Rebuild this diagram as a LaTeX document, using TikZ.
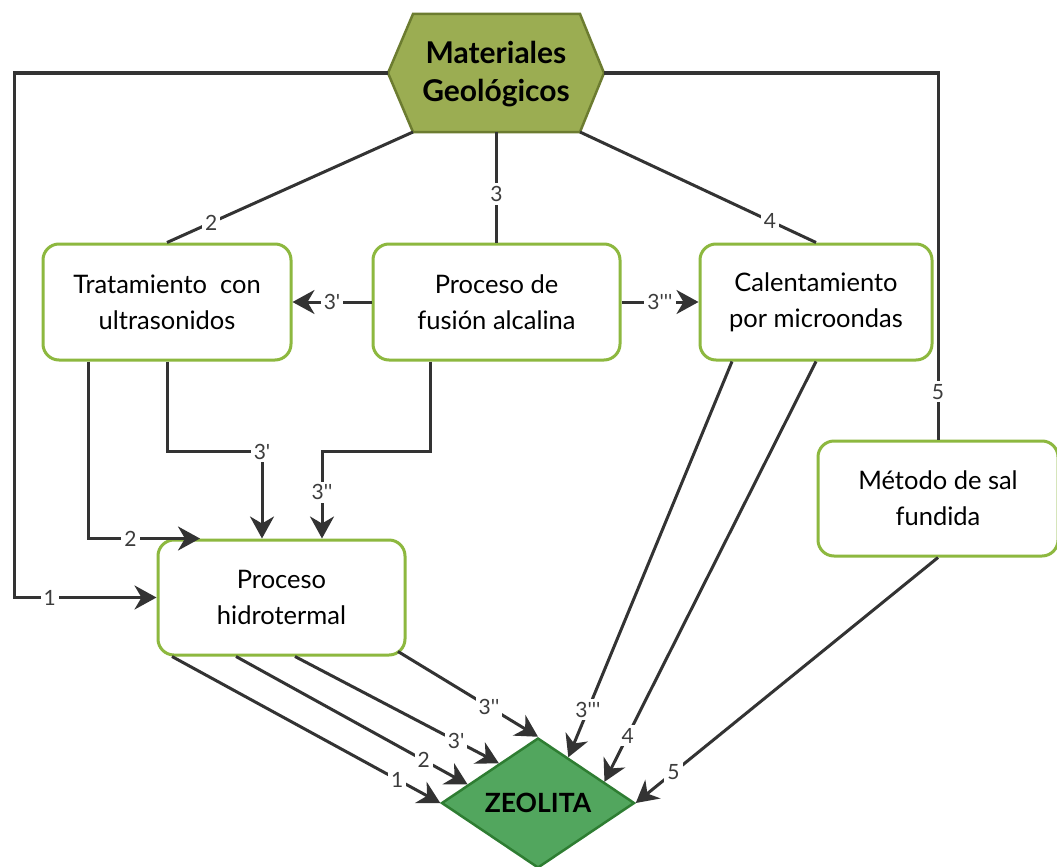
\documentclass[tikz,border=0pt]{standalone}
\usepackage{fontspec}
\newfontfamily\latofont{Lato}
\usetikzlibrary{shapes.geometric,arrows.meta,calc}
\definecolor{boxgreen}{RGB}{141,184,63}
\definecolor{hexfill}{RGB}{155,173,82}
\definecolor{hexborder}{RGB}{108,124,48}
\definecolor{zeofill}{RGB}{82,166,94}
\definecolor{zeoborder}{RGB}{46,125,50}
\definecolor{linegray}{RGB}{51,51,51}
\definecolor{labelgray}{RGB}{60,60,60}
\begin{document}
\begin{tikzpicture}[x=1pt,y=-1pt,
  box/.style={draw=boxgreen, line width=3pt, rounded corners=16pt, fill=white,
    align=center, inner sep=0pt, text=black,
    font=\latofont\fontsize{25.5}{36}\selectfont},
  conn/.style={draw=linegray, line width=3pt},
  arr/.style={conn, -{Stealth[length=22pt,width=24pt,inset=7pt]}},
  lbl/.style={fill=white, inner sep=3pt, text=labelgray,
    font=\latofont\fontsize{21}{21}\selectfont},
]
\fill[white] (0,0) rectangle (1057,867);
\useasboundingbox (0,0) rectangle (1057,867);

% source hexagon
\coordinate (hw)  at (388,73);
\coordinate (htl) at (413,14);
\coordinate (htr) at (580,14);
\coordinate (he)  at (604,73);
\coordinate (hbr) at (580,132);
\coordinate (hbl) at (413,132);
\coordinate (hb)  at (496.5,132);
\draw[fill=hexfill, draw=hexborder, line width=2.5pt]
  (hw) -- (htl) -- (htr) -- (he) -- (hbr) -- (hbl) -- cycle;
\node[align=center, inner sep=0pt, font=\latofont\bfseries\fontsize{30}{38}\selectfont]
  (geo) at (496,74) {Materiales\\Geológicos};

% process boxes
\node[box, minimum width=248pt, minimum height=116pt] (trat) at (167,302)
  {Tratamiento\ \ con\\ultrasonidos};
\node[box, minimum width=247pt, minimum height=116pt] (fus) at (496.5,302)
  {Proceso de\\fusión alcalina};
\node[box, minimum width=232pt, minimum height=116pt] (cal) at (816,302)
  {Calentamiento\\por microondas};
\node[box, minimum width=240pt, minimum height=115pt] (met) at (938,498.5)
  {Método de sal\\fundida};
\node[box, minimum width=247pt, minimum height=115pt] (hid) at (281.5,597.5)
  {Proceso\\hidrotermal};

% product
\node[diamond, draw=zeoborder, fill=zeofill, line width=2.5pt, aspect=1.48,
  minimum width=193pt, minimum height=130pt, inner sep=0pt,
  font=\latofont\bfseries\fontsize{26.5}{30}\selectfont] (zeo) at (538,803) {ZEOLITA};

% routes out of the raw material
\draw[conn] (hbl) -- node[lbl,pos=0.82]{2} (trat.north);
\draw[conn] (hb)  -- node[lbl,pos=0.56]{3} (fus.north);
\draw[conn] (hbr) -- node[lbl,pos=0.805]{4} (cal.north);
\draw[arr] (hw) -- ++(-374,0) |- node[lbl,pos=0.625]{1} (hid.west);
\draw[conn] (he) -| node[lbl,pos=0.935]{5} (met.north);

% alkaline fusion branches
\draw[arr] (fus.west) -- node[lbl]{3'} (trat.east);
\draw[arr] (fus.east) -- node[lbl]{3'''} (cal.west);

% into the hydrothermal step
\draw[arr] ([xshift=-79pt]trat.south) |- node[lbl,pos=0.69]{2} ([xshift=-81.5pt]hid.north);
\draw[arr] (trat.south) -- ++(0,90) -| node[lbl,pos=0.5]{3'} ([xshift=-19.5pt]hid.north);
\draw[arr] ([xshift=-66.5pt]fus.south) -- ++(0,90) -| node[lbl,pos=0.735]{3''} ([xshift=40.5pt]hid.north);

% into the zeolite
\draw[arr] ([xshift=-109.5pt]hid.south) -- node[lbl,pos=0.84]{1} (zeo.west);
\draw[arr] ([xshift=-45.5pt]hid.south) -- node[lbl,pos=0.81]{2} ($(zeo.west)!0.28!(zeo.north)$);
\draw[arr] ([xshift=13.5pt]hid.south) -- node[lbl,pos=0.79]{3'} ($(zeo.west)!0.6!(zeo.north)$);
\draw[arr] ([xshift=116.5pt,yshift=5pt]hid.south) -- node[lbl,pos=0.65]{3''} (zeo.north);
\draw[arr] ([xshift=-84pt]cal.south) -- node[lbl,pos=0.88]{3'''} ($(zeo.north)!0.31!(zeo.east)$);
\draw[arr] (cal.south) -- node[lbl,pos=0.89]{4} ($(zeo.north)!0.68!(zeo.east)$);
\draw[arr] (met.south) -- node[lbl,pos=0.875]{5} (zeo.east);
\end{tikzpicture}
\end{document}
